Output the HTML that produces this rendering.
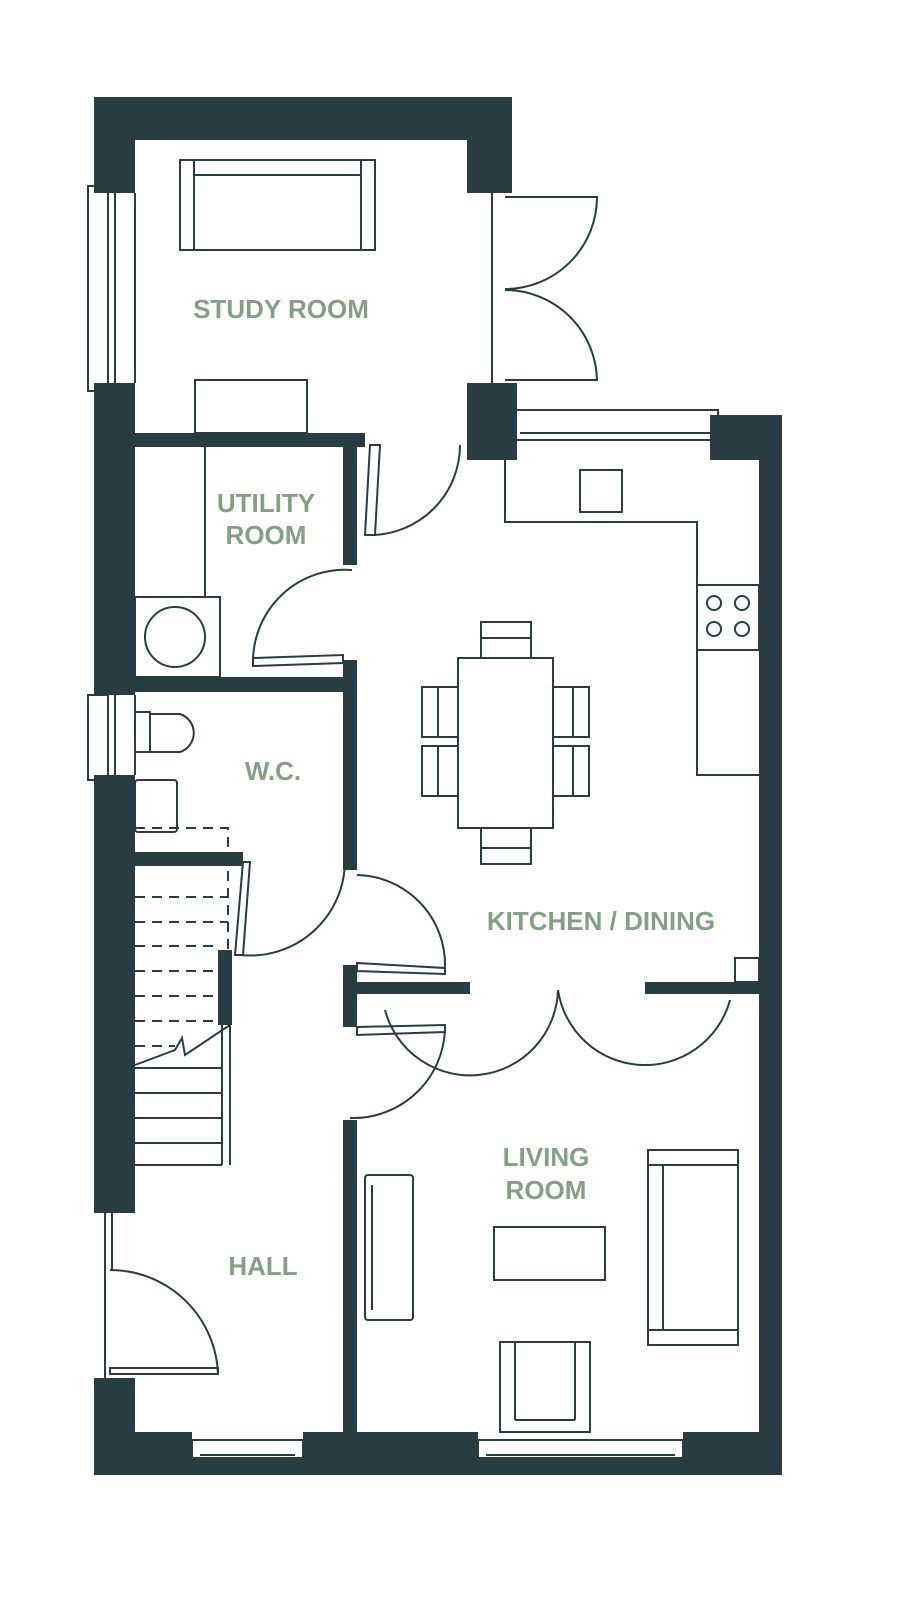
<!DOCTYPE html>
<html><head><meta charset="utf-8"><style>
html,body{margin:0;padding:0;background:#fff;}
svg{display:block;}
text{font-family:"Liberation Sans",sans-serif;font-weight:bold;fill:#84a084;font-size:26px;text-anchor:middle;}
</style></head><body>
<svg width="900" height="1605" viewBox="0 0 900 1605" xmlns="http://www.w3.org/2000/svg">
<g fill="#283c42">
<rect x="94" y="97" width="418" height="43"/>
<rect x="94" y="97" width="41" height="96"/>
<rect x="467" y="97" width="45" height="96"/>
<rect x="94" y="383" width="41" height="312"/>
<rect x="94" y="775" width="41" height="438"/>
<rect x="94" y="1378" width="41" height="97"/>
<rect x="94" y="1432" width="688" height="43"/>
<rect x="759" y="415" width="23" height="1060"/>
<rect x="710" y="415" width="72" height="45"/>
<rect x="467" y="383" width="50" height="77"/>
<rect x="135" y="433" width="230" height="14"/>
<rect x="343" y="447" width="14" height="118"/>
<rect x="135" y="677" width="222" height="15"/>
<rect x="343" y="660" width="14" height="210"/>
<rect x="343" y="965" width="14" height="62"/>
<rect x="343" y="1120" width="14" height="312"/>
<rect x="357" y="982" width="113" height="12"/>
<rect x="645" y="982" width="114" height="12"/>
<rect x="135" y="852" width="108" height="14"/>
<rect x="218" y="950" width="14" height="75"/>
</g>
<g fill="#fff">
<rect x="192" y="1432" width="111" height="25"/>
<rect x="478" y="1432" width="205" height="25"/>
</g>
<g fill="none" stroke="#283c42" stroke-width="2">
<rect x="88" y="186" width="20" height="205"/>
<line x1="108" y1="193" x2="108" y2="383"/><line x1="115" y1="193" x2="115" y2="383"/><line x1="135" y1="193" x2="135" y2="383"/>
<rect x="88" y="695" width="20" height="85"/>
<line x1="115" y1="695" x2="115" y2="775"/><line x1="135" y1="695" x2="135" y2="775"/>
<line x1="105" y1="1213" x2="105" y2="1378"/><line x1="112" y1="1213" x2="112" y2="1270"/>
<rect x="192" y="1440" width="111" height="30"/><line x1="200" y1="1455" x2="295" y2="1455"/>
<rect x="478" y="1440" width="205" height="30"/><line x1="486" y1="1455" x2="675" y2="1455"/>
<rect x="512" y="410" width="206" height="30"/><line x1="520" y1="433" x2="710" y2="433"/>
<line x1="492" y1="193" x2="492" y2="383"/>
<path d="M505,197 L597,197 A92,92 0 0 1 505,289"/>
<path d="M505,290 A92,92 0 0 1 597,380 L505,380"/>
<path d="M370,445 L365,535 L375,535 L380,445 Z"/>
<path d="M372,535 A90,90 0 0 0 460,445"/>
<path d="M253,658 L343,655 L343,663 L253,666 Z"/>
<path d="M253,662 A92,92 0 0 1 352,570"/>
<path d="M243,862 L235,955 L243,955 L250,862 Z"/>
<path d="M240,955 A95,95 0 0 0 345,860"/>
<path d="M357,875 A90,90 0 0 1 445,968"/>
<path d="M357,963 L445,968 L445,974 L357,971 Z"/>
<path d="M357,1027 L445,1025 L445,1032 L357,1035 Z"/>
<path d="M350,1118 A92,92 0 0 0 445,1030"/>
<path d="M385,1010 A88,88 0 0 0 558,990"/>
<path d="M558,990 A88,88 0 0 0 730,1000"/>
<rect x="735" y="958" width="24" height="24"/>
<path d="M110,1270 A108,108 0 0 1 218,1375"/>
<rect x="110" y="1368" width="108" height="6"/>
<rect x="180" y="160" width="195" height="90"/>
<line x1="194" y1="160" x2="194" y2="250"/><line x1="361" y1="160" x2="361" y2="250"/><line x1="194" y1="175" x2="361" y2="175"/>
<rect x="195" y="380" width="112" height="53"/>
<line x1="205" y1="447" x2="205" y2="597"/>
<rect x="135" y="597" width="85" height="80"/>
<circle cx="175" cy="637" r="30"/>
<rect x="135" y="712" width="15" height="40"/>
<path d="M150,714 L180,714 A20,20 0 0 1 180,752 L150,752"/>
<rect x="135" y="780" width="42" height="52" rx="3"/>
<g stroke-dasharray="10,7">
<path d="M135,828 L228,828 L228,1025"/>
<line x1="135" y1="897" x2="228" y2="897"/><line x1="135" y1="922" x2="228" y2="922"/>
<line x1="135" y1="946" x2="218" y2="946"/><line x1="135" y1="971" x2="218" y2="971"/>
<line x1="135" y1="996" x2="218" y2="996"/><line x1="135" y1="1021" x2="218" y2="1021"/>
<line x1="135" y1="1046" x2="175" y2="1046"/>
</g>
<line x1="230" y1="1025" x2="230" y2="1165"/>
<line x1="222" y1="1025" x2="222" y2="1165"/>
<line x1="135" y1="1068" x2="222" y2="1068"/><line x1="135" y1="1093" x2="222" y2="1093"/>
<line x1="135" y1="1118" x2="222" y2="1118"/><line x1="135" y1="1143" x2="222" y2="1143"/>
<line x1="135" y1="1165" x2="222" y2="1165"/>
<path d="M135,1065 L175,1050 L182,1038 L185,1055 L230,1025"/>
<path d="M505,460 L505,522 L697,522 L697,775 L759,775"/>
<rect x="580" y="470" width="42" height="42"/>
<rect x="697" y="585" width="62" height="65"/>
<circle cx="714" cy="603" r="7"/><circle cx="742" cy="603" r="7"/>
<circle cx="714" cy="629" r="7"/><circle cx="742" cy="629" r="7"/>
<rect x="458" y="658" width="95" height="170"/>
<rect x="481" y="622" width="50" height="36"/><line x1="481" y1="638" x2="531" y2="638"/>
<rect x="481" y="828" width="50" height="36"/><line x1="481" y1="848" x2="531" y2="848"/>
<rect x="422" y="687" width="36" height="50"/><line x1="438" y1="687" x2="438" y2="737"/>
<rect x="422" y="746" width="36" height="50"/><line x1="438" y1="746" x2="438" y2="796"/>
<rect x="553" y="687" width="36" height="50"/><line x1="573" y1="687" x2="573" y2="737"/>
<rect x="553" y="746" width="36" height="50"/><line x1="573" y1="746" x2="573" y2="796"/>
<rect x="648" y="1150" width="90" height="195"/>
<line x1="648" y1="1165" x2="738" y2="1165"/><line x1="648" y1="1330" x2="738" y2="1330"/><line x1="663" y1="1165" x2="663" y2="1330"/>
<rect x="494" y="1227" width="111" height="53"/>
<rect x="500" y="1342" width="90" height="90"/>
<line x1="515" y1="1342" x2="515" y2="1420"/><line x1="575" y1="1342" x2="575" y2="1420"/><line x1="515" y1="1420" x2="575" y2="1420"/>
<rect x="365" y="1175" width="48" height="145" rx="3"/>
<line x1="372" y1="1185" x2="372" y2="1310"/>
</g>
<text x="281" y="318">STUDY ROOM</text>
<text x="266" y="512">UTILITY</text>
<text x="266" y="544">ROOM</text>
<text x="273" y="780">W.C.</text>
<text x="601" y="930">KITCHEN / DINING</text>
<text x="546" y="1166">LIVING</text>
<text x="546" y="1199">ROOM</text>
<text x="263" y="1275">HALL</text>
</svg>
</body></html>
